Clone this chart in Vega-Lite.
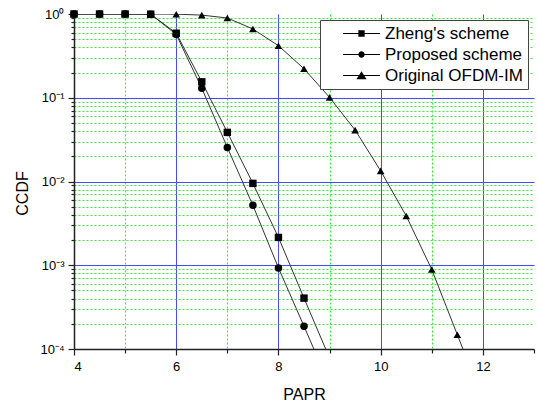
{
  "$schema": "https://vega.github.io/schema/vega-lite/v6.json",
  "width": 460,
  "height": 335,
  "autosize": {"type": "none"},
  "padding": {"left": 74, "top": 14, "right": 3, "bottom": 55},
  "background": "white",
  "config": {"view": {"stroke": null}, "font": "Liberation Sans"},
  "data": {"values": [
    {"series": "Zheng's scheme", "papr": 4.0, "ccdf": 1.0},
    {"series": "Zheng's scheme", "papr": 4.5, "ccdf": 1.0},
    {"series": "Zheng's scheme", "papr": 5.0, "ccdf": 1.0},
    {"series": "Zheng's scheme", "papr": 5.5, "ccdf": 0.995},
    {"series": "Zheng's scheme", "papr": 6.0, "ccdf": 0.59},
    {"series": "Zheng's scheme", "papr": 6.5, "ccdf": 0.155},
    {"series": "Zheng's scheme", "papr": 7.0, "ccdf": 0.0386},
    {"series": "Zheng's scheme", "papr": 7.5, "ccdf": 0.0095},
    {"series": "Zheng's scheme", "papr": 8.0, "ccdf": 0.00215},
    {"series": "Zheng's scheme", "papr": 8.5, "ccdf": 0.000405},
    {"series": "Zheng's scheme", "papr": 9.0, "ccdf": 0.000078},
    {"series": "Proposed scheme", "papr": 4.0, "ccdf": 1.0},
    {"series": "Proposed scheme", "papr": 4.5, "ccdf": 1.0},
    {"series": "Proposed scheme", "papr": 5.0, "ccdf": 1.0},
    {"series": "Proposed scheme", "papr": 5.5, "ccdf": 0.995},
    {"series": "Proposed scheme", "papr": 6.0, "ccdf": 0.57},
    {"series": "Proposed scheme", "papr": 6.5, "ccdf": 0.13},
    {"series": "Proposed scheme", "papr": 7.0, "ccdf": 0.0255},
    {"series": "Proposed scheme", "papr": 7.5, "ccdf": 0.0052},
    {"series": "Proposed scheme", "papr": 8.0, "ccdf": 0.00093},
    {"series": "Proposed scheme", "papr": 8.5, "ccdf": 0.000187},
    {"series": "Proposed scheme", "papr": 9.0, "ccdf": 0.000037},
    {"series": "Original OFDM-IM", "papr": 4.0, "ccdf": 1.0},
    {"series": "Original OFDM-IM", "papr": 4.5, "ccdf": 1.0},
    {"series": "Original OFDM-IM", "papr": 5.0, "ccdf": 1.0},
    {"series": "Original OFDM-IM", "papr": 5.5, "ccdf": 1.0},
    {"series": "Original OFDM-IM", "papr": 6.0, "ccdf": 0.995},
    {"series": "Original OFDM-IM", "papr": 6.5, "ccdf": 0.97},
    {"series": "Original OFDM-IM", "papr": 7.0, "ccdf": 0.896},
    {"series": "Original OFDM-IM", "papr": 7.5, "ccdf": 0.662},
    {"series": "Original OFDM-IM", "papr": 8.0, "ccdf": 0.418},
    {"series": "Original OFDM-IM", "papr": 8.5, "ccdf": 0.222},
    {"series": "Original OFDM-IM", "papr": 9.0, "ccdf": 0.101},
    {"series": "Original OFDM-IM", "papr": 9.5, "ccdf": 0.0411},
    {"series": "Original OFDM-IM", "papr": 10.0, "ccdf": 0.0134},
    {"series": "Original OFDM-IM", "papr": 10.5, "ccdf": 0.00388},
    {"series": "Original OFDM-IM", "papr": 11.0, "ccdf": 0.00089},
    {"series": "Original OFDM-IM", "papr": 11.5, "ccdf": 0.000148},
    {"series": "Original OFDM-IM", "papr": 12.0, "ccdf": 0.000025}
  ]},
  "encoding": {
    "x": {
      "field": "papr", "type": "quantitative",
      "scale": {"domain": [4, 13], "nice": false, "zero": false},
      "axis": {
        "values": [4, 5, 6, 7, 8, 9, 10, 11, 12, 13],
        "grid": true,
        "gridColor": {"condition": {"test": "datum.value % 2 === 0", "value": "#4848ff"}, "value": "#33ee33"},
        "gridDash": {"condition": {"test": "datum.value % 2 === 0", "value": []}, "value": [2, 2]},
        "gridOpacity": {"condition": {"test": "datum.value === 4 || datum.value === 13", "value": 0}, "value": 1},
        "gridWidth": 1,
        "tickSize": {"condition": {"test": "datum.value % 2 === 0", "value": 6}, "value": 4},
        "tickColor": "#222", "tickWidth": 1.2,
        "domainColor": "#222", "domainWidth": 1.5,
        "labelExpr": "datum.value % 2 === 0 && datum.value < 13 ? datum.label : ''",
        "labelFont": "Liberation Sans", "labelFontSize": 13, "labelColor": "#000", "labelPadding": 5,
        "title": "PAPR", "titleFont": "Liberation Sans", "titleFontSize": 16, "titleFontWeight": "normal",
        "titleColor": "#000", "titlePadding": 13
      }
    },
    "y": {
      "field": "ccdf", "type": "quantitative",
      "scale": {"type": "log", "domain": [0.0001, 1], "nice": false},
      "axis": {
        "values": [0.0001, 0.0002, 0.0003, 0.0004, 0.0005, 0.0006, 0.0007, 0.0008, 0.0009,
                   0.001, 0.002, 0.003, 0.004, 0.005, 0.006, 0.007, 0.008, 0.009,
                   0.01, 0.02, 0.03, 0.04, 0.05, 0.06, 0.07, 0.08, 0.09,
                   0.1, 0.2, 0.3, 0.4, 0.5, 0.6, 0.7, 0.8, 0.9, 1],
        "grid": true,
        "gridColor": {"condition": {"test": "abs(log(datum.value)/LN10 - round(log(datum.value)/LN10)) < 0.001", "value": "#4848ff"}, "value": "#33ee33"},
        "gridDash": {"condition": {"test": "abs(log(datum.value)/LN10 - round(log(datum.value)/LN10)) < 0.001", "value": []}, "value": [2, 2]},
        "gridOpacity": {"condition": {"test": "datum.value > 0.95 || datum.value < 0.00011", "value": 0}, "value": 1},
        "tickSize": {"condition": {"test": "abs(log(datum.value)/LN10 - round(log(datum.value)/LN10)) < 0.001", "value": 6}, "value": 3},
        "tickColor": "#222", "tickWidth": 1.2,
        "domainColor": "#222", "domainWidth": 1.5,
        "labelExpr": "abs(log(datum.value)/LN10 - round(log(datum.value)/LN10)) < 0.001 ? '10' + (round(log(datum.value)/LN10) === 0 ? '⁰' : '⁻' + ['', '¹', '²', '³', '⁴'][-round(log(datum.value)/LN10)]) : ''",
        "labelFont": "Liberation Sans", "labelFontSize": 13, "labelColor": "#000", "labelPadding": 4,
        "title": "CCDF", "titleFont": "Liberation Sans", "titleFontSize": 16, "titleFontWeight": "normal",
        "titleColor": "#000", "titlePadding": 9, "titleY": 179
      }
    }
  },
  "layer": [
    {
      "mark": {"type": "line", "color": "#333", "strokeWidth": 1, "clip": true},
      "encoding": {"detail": {"field": "series"}}
    },
    {
      "transform": [{"filter": "datum.ccdf >= 0.0001"}],
      "mark": {"type": "point", "filled": true, "color": "#000", "opacity": 1},
      "encoding": {
        "shape": {"field": "series", "type": "nominal",
          "scale": {"domain": ["Zheng's scheme", "Proposed scheme", "Original OFDM-IM"], "range": ["square", "circle", "triangle-up"]},
          "legend": null},
        "size": {"field": "series", "type": "ordinal",
          "scale": {"domain": ["Zheng's scheme", "Proposed scheme", "Original OFDM-IM"], "range": [55, 58, 105]},
          "legend": null}
      }
    },
    {
      "transform": [{"filter": "false"}],
      "mark": {"type": "point", "filled": true, "color": "#000", "opacity": 1, "size": 49},
      "encoding": {
        "shape": {"field": "series", "type": "nominal",
          "scale": {"domain": ["Zheng's scheme", "Proposed scheme", "Original OFDM-IM"],
            "range": ["M-5.3,-0.14H-0.8V0.14H-5.3ZM0.8,-0.14H5.3V0.14H0.8ZM-0.9,-0.9H0.9V0.9H-0.9Z",
                      "M-5.3,-0.14H-0.8V0.14H-5.3ZM0.8,-0.14H5.3V0.14H0.8ZM-0.9,0A0.9,0.9,0,1,1,0.9,0A0.9,0.9,0,1,1,-0.9,0Z",
                      "M-5.3,-0.14H-0.7V0.14H-5.3ZM0.7,-0.14H5.3V0.14H0.7ZM0,-1.2L1.45,1.05H-1.45Z"]},
          "legend": {
            "title": null, "orient": "top-right", "offset": 6,
            "strokeColor": "#444", "fillColor": "white", "padding": 5,
            "labelFont": "Liberation Sans", "labelFontSize": 17, "labelColor": "#000",
            "labelExpr": "datum.label + ' '",
            "symbolSize": 49, "symbolOffset": 28, "labelOffset": 15,
            "symbolFillColor": "#000", "symbolStrokeColor": "transparent", "symbolOpacity": 1,
            "rowPadding": 3
          }
        }
      }
    }
  ],
  "resolve": {"scale": {"shape": "independent", "size": "independent"}, "legend": {"shape": "independent"}}
}
